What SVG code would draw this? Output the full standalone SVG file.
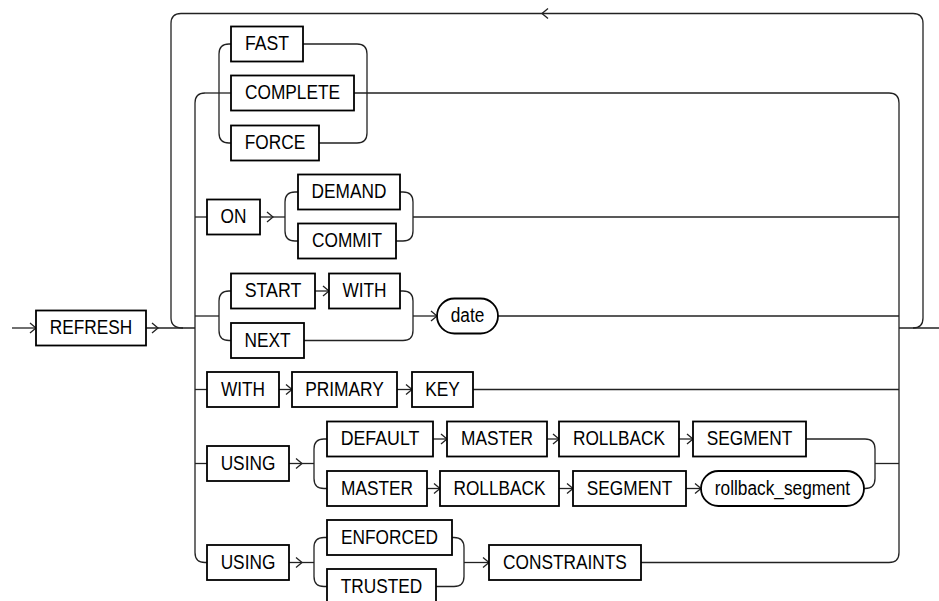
<svg xmlns="http://www.w3.org/2000/svg" xmlns:xlink="http://www.w3.org/1999/xlink" width="939" height="601" viewBox="0 0 939 601">
<style>
.b{fill:#fff;stroke:#000;stroke-width:1.8}
.t{font-family:"Liberation Sans",Arial,sans-serif;font-size:20px;text-anchor:middle;fill:#000}
.c{fill:none;stroke:#222;stroke-width:1.3}
.a{fill:none;stroke:#222;stroke-width:1.3}
</style>
<defs>
<path id="ar" class="a" d="M-6,-5 L0,0 L-6,5"/>
<path id="al" class="a" d="M6,-5 L0,0 L6,5"/>
</defs>
<rect width="939" height="601" fill="#fff"/>
<g id="connectors" class="c">
<path d="M12 328 H36"/>
<path d="M146 328 H195"/>
<path d="M183 328 Q171 328 171 318 V23.5 Q171 13.5 181 13.5 H913 Q923 13.5 923 23.5 V318 Q923 328 913 328"/>
<path d="M899 328 H939"/>
<path d="M205 93 Q195 93 195 103 V552.5 Q195 562.5 205 562.5 H207"/>
<path d="M205 93 H231"/>
<path d="M354 93 H889 Q899 93 899 103 V552.5 Q899 562.5 889 562.5 H641"/>
<path d="M231 44 H229 Q219 44 219 54 V133 Q219 143 229 143 H231"/>
<path d="M303 44 H357 Q367 44 367 54 V133 Q367 143 357 143 H319"/>
<path d="M195 217 H207"/>
<path d="M260 217 H285"/>
<path d="M298 192 H295 Q285 192 285 202 V231 Q285 241 295 241 H298"/>
<path d="M400 192 H403 Q413 192 413 202 V231 Q413 241 403 241 H396"/>
<path d="M413 217 H899"/>
<path d="M195 316 H219"/>
<path d="M231 291 H229 Q219 291 219 301 V330.5 Q219 340.5 229 340.5 H231"/>
<path d="M315 291 H329"/>
<path d="M400 291 H403 Q413 291 413 301 V330.5 Q413 340.5 403 340.5 H304"/>
<path d="M413 316 H437"/>
<path d="M498 316 H899"/>
<path d="M195 389.5 H207"/>
<path d="M279 389.5 H292"/>
<path d="M397 389.5 H412"/>
<path d="M473 389.5 H899"/>
<path d="M195 463.5 H207"/>
<path d="M289 463.5 H314"/>
<path d="M327 439 H324 Q314 439 314 449 V478.5 Q314 488.5 324 488.5 H327"/>
<path d="M433 439 H447"/>
<path d="M547 439 H559"/>
<path d="M679 439 H693"/>
<path d="M806 439 H865 Q875 439 875 449 V478.5 Q875 488.5 865 488.5 H864"/>
<path d="M427 488.5 H440"/>
<path d="M559 488.5 H573"/>
<path d="M686 488.5 H701"/>
<path d="M875 463.5 H899"/>
<path d="M289 562.5 H314"/>
<path d="M327 537.5 H324 Q314 537.5 314 547.5 V576.5 Q314 586.5 324 586.5 H327"/>
<path d="M452 537.5 H454 Q464 537.5 464 547.5 V576.5 Q464 586.5 454 586.5 H436"/>
<path d="M464 562.5 H489"/>
<use href="#ar" x="36" y="328"/>
<use href="#ar" x="158" y="328"/>
<use href="#al" x="542" y="13.5"/>
<use href="#ar" x="273" y="217"/>
<use href="#ar" x="329" y="291"/>
<use href="#ar" x="437" y="316"/>
<use href="#ar" x="292" y="389.5"/>
<use href="#ar" x="412" y="389.5"/>
<use href="#ar" x="302" y="463.5"/>
<use href="#ar" x="447" y="439"/>
<use href="#ar" x="559" y="439"/>
<use href="#ar" x="693" y="439"/>
<use href="#ar" x="440" y="488.5"/>
<use href="#ar" x="573" y="488.5"/>
<use href="#ar" x="701" y="488.5"/>
<use href="#ar" x="302" y="562.5"/>
<use href="#ar" x="489" y="562.5"/>
</g>
<g id="n-refresh"><rect class="b" x="36" y="310.5" width="110" height="35"/><text class="t" x="91" y="334" textLength="82.5" lengthAdjust="spacingAndGlyphs">REFRESH</text></g>
<g id="n-fast"><rect class="b" x="231" y="26.5" width="72" height="35"/><text class="t" x="267" y="50" textLength="44.1" lengthAdjust="spacingAndGlyphs">FAST</text></g>
<g id="n-complete"><rect class="b" x="231" y="75.5" width="123" height="35"/><text class="t" x="292.5" y="99" textLength="95" lengthAdjust="spacingAndGlyphs">COMPLETE</text></g>
<g id="n-force"><rect class="b" x="231" y="125.5" width="88" height="35"/><text class="t" x="275" y="149" textLength="60.4" lengthAdjust="spacingAndGlyphs">FORCE</text></g>
<g id="n-on"><rect class="b" x="207" y="199.5" width="53" height="35"/><text class="t" x="233.5" y="223" textLength="25.9" lengthAdjust="spacingAndGlyphs">ON</text></g>
<g id="n-demand"><rect class="b" x="298" y="174.5" width="102" height="35"/><text class="t" x="349" y="198" textLength="74.8" lengthAdjust="spacingAndGlyphs">DEMAND</text></g>
<g id="n-commit"><rect class="b" x="298" y="223.5" width="98" height="35"/><text class="t" x="347" y="247" textLength="70" lengthAdjust="spacingAndGlyphs">COMMIT</text></g>
<g id="n-start"><rect class="b" x="231" y="273.5" width="84" height="35"/><text class="t" x="273" y="297" textLength="56.6" lengthAdjust="spacingAndGlyphs">START</text></g>
<g id="n-with1"><rect class="b" x="329" y="273.5" width="71" height="35"/><text class="t" x="364.5" y="297" textLength="44.1" lengthAdjust="spacingAndGlyphs">WITH</text></g>
<g id="n-next"><rect class="b" x="231" y="323" width="73" height="35"/><text class="t" x="267.5" y="346.5" textLength="46.1" lengthAdjust="spacingAndGlyphs">NEXT</text></g>
<g id="n-date"><rect class="b" x="437" y="298.5" width="61" height="35" rx="17.5"/><text class="t" x="467.5" y="322" textLength="33.6" lengthAdjust="spacingAndGlyphs">date</text></g>
<g id="n-with2"><rect class="b" x="207" y="372" width="72" height="35"/><text class="t" x="243" y="395.5" textLength="44.1" lengthAdjust="spacingAndGlyphs">WITH</text></g>
<g id="n-primary"><rect class="b" x="292" y="372" width="105" height="35"/><text class="t" x="344.5" y="395.5" textLength="78.7" lengthAdjust="spacingAndGlyphs">PRIMARY</text></g>
<g id="n-key"><rect class="b" x="412" y="372" width="61" height="35"/><text class="t" x="442.5" y="395.5" textLength="34.6" lengthAdjust="spacingAndGlyphs">KEY</text></g>
<g id="n-using1"><rect class="b" x="207" y="446" width="82" height="35"/><text class="t" x="248" y="469.5" textLength="54.7" lengthAdjust="spacingAndGlyphs">USING</text></g>
<g id="n-default"><rect class="b" x="327" y="421.5" width="106" height="35"/><text class="t" x="380" y="445" textLength="78.7" lengthAdjust="spacingAndGlyphs">DEFAULT</text></g>
<g id="n-master1"><rect class="b" x="447" y="421.5" width="100" height="35"/><text class="t" x="497" y="445" textLength="72" lengthAdjust="spacingAndGlyphs">MASTER</text></g>
<g id="n-rollback1"><rect class="b" x="559" y="421.5" width="120" height="35"/><text class="t" x="619" y="445" textLength="92.1" lengthAdjust="spacingAndGlyphs">ROLLBACK</text></g>
<g id="n-segment1"><rect class="b" x="693" y="421.5" width="113" height="35"/><text class="t" x="749.5" y="445" textLength="85.4" lengthAdjust="spacingAndGlyphs">SEGMENT</text></g>
<g id="n-master2"><rect class="b" x="327" y="471" width="100" height="35"/><text class="t" x="377" y="494.5" textLength="72" lengthAdjust="spacingAndGlyphs">MASTER</text></g>
<g id="n-rollback2"><rect class="b" x="440" y="471" width="119" height="35"/><text class="t" x="499.5" y="494.5" textLength="92.1" lengthAdjust="spacingAndGlyphs">ROLLBACK</text></g>
<g id="n-segment2"><rect class="b" x="573" y="471" width="113" height="35"/><text class="t" x="629.5" y="494.5" textLength="85.4" lengthAdjust="spacingAndGlyphs">SEGMENT</text></g>
<g id="n-rollback_segment"><rect class="b" x="701" y="471" width="163" height="35" rx="17.5"/><text class="t" x="782.5" y="494.5" textLength="135.3" lengthAdjust="spacingAndGlyphs">rollback_segment</text></g>
<g id="n-using2"><rect class="b" x="207" y="545" width="82" height="35"/><text class="t" x="248" y="568.5" textLength="54.7" lengthAdjust="spacingAndGlyphs">USING</text></g>
<g id="n-enforced"><rect class="b" x="327" y="520" width="125" height="35"/><text class="t" x="389.5" y="543.5" textLength="96.9" lengthAdjust="spacingAndGlyphs">ENFORCED</text></g>
<g id="n-trusted"><rect class="b" x="327" y="569" width="109" height="35"/><text class="t" x="381.5" y="592.5" textLength="81.5" lengthAdjust="spacingAndGlyphs">TRUSTED</text></g>
<g id="n-constraints"><rect class="b" x="489" y="545" width="152" height="35"/><text class="t" x="565" y="568.5" textLength="123.8" lengthAdjust="spacingAndGlyphs">CONSTRAINTS</text></g>
</svg>
